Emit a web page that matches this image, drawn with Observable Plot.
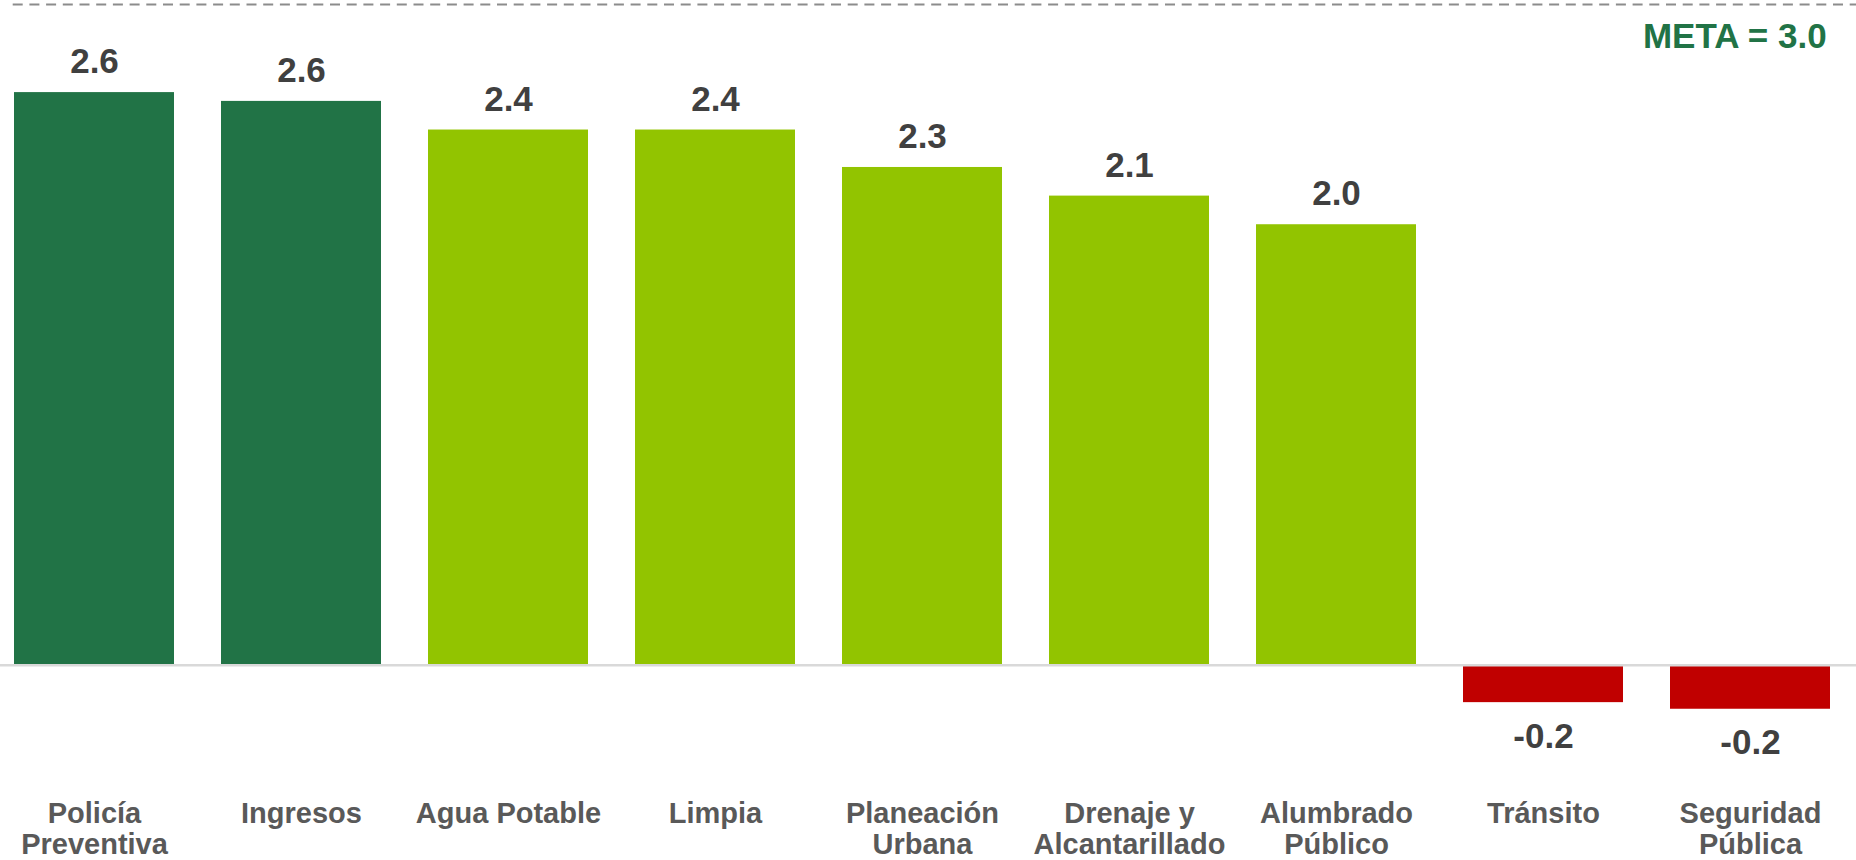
<!DOCTYPE html>
<html>
<head>
<meta charset="utf-8">
<script src="https://cdn.jsdelivr.net/npm/d3@7"></script>
<script src="https://cdn.jsdelivr.net/npm/@observablehq/plot@0.6"></script>
<style>
  html, body { margin: 0; padding: 0; background: #ffffff; }
  #chart svg { display: block; }
</style>
</head>
<body>
<div id="chart"></div>
<script>
// Categories (dependencias), in display order
const categorias = [
  "Policía Preventiva", "Ingresos", "Agua Potable", "Limpia",
  "Planeación Urbana", "Drenaje y Alcantarillado", "Alumbrado Público",
  "Tránsito", "Seguridad Pública"
];
// Tick labels (two lines where the original wraps)
const etiquetas = [
  "Policía\nPreventiva", "Ingresos", "Agua Potable", "Limpia",
  "Planeación\nUrbana", "Drenaje y\nAlcantarillado", "Alumbrado\nPúblico",
  "Tránsito", "Seguridad\nPública"
];
// Values
const valores = [2.60, 2.56, 2.43, 2.43, 2.26, 2.13, 2.00, -0.17, -0.20];
// Performance tier of each bar
const niveles = ["alto", "alto", "medio", "medio", "medio", "medio", "medio", "bajo", "bajo"];
const nivelesDominio = ["alto", "medio", "bajo"];
// Goal
const meta = 3.0;
const metaTexto = "META = 3.0";

const datos = categorias.map((c, i) => ({
  categoria: c, etiqueta: etiquetas[i], valor: valores[i], nivel: niveles[i]
}));
const fmt = v => v.toFixed(1);

const W = 1856, H = 860;
const mL = 11.7, mR = 24.3;

const chart = Plot.plot({
  width: W,
  height: H,
  marginLeft: mL,
  marginRight: mR,
  marginTop: 0,
  marginBottom: 60,
  style: { fontFamily: "'Liberation Sans', Arial, Helvetica, sans-serif", background: "#ffffff" },
  x: { domain: categorias, paddingInner: 0.229, paddingOuter: 0, axis: null },
  y: { domain: [0, 3], range: [664.7, 4], axis: null },
  color: { domain: nivelesDominio, range: ["#217346", "#92c400", "#c00000"] },
  marks: [
    Plot.barY(datos, { x: "categoria", y: "valor", fill: "nivel" }),
    Plot.ruleY([0], { stroke: "#d9d9d9", strokeWidth: 2.6, insetLeft: -mL, insetRight: -mR }),
    Plot.ruleY([meta], { stroke: "#8c8c8c", strokeWidth: 2.2, strokeDasharray: "10,6.7", insetLeft: 1, insetRight: -mR }),
    Plot.text(datos.filter(d => d.valor >= 0), {
      x: "categoria", y: "valor", text: d => fmt(d.valor),
      dy: -30.5, fontSize: 35, fontWeight: "bold", fill: "#404040"
    }),
    Plot.text(datos.filter(d => d.valor < 0), {
      x: "categoria", y: "valor", text: d => fmt(d.valor),
      dy: 34, fontSize: 35, fontWeight: "bold", fill: "#404040"
    }),
    Plot.text(datos, {
      x: "categoria", text: "etiqueta", frameAnchor: "bottom", lineAnchor: "top",
      fontSize: 29, fontWeight: "bold", fill: "#595959", lineHeight: 31 / 29
    }),
    Plot.text([metaTexto], {
      frameAnchor: "top-right", textAnchor: "end", lineAnchor: "top",
      dx: -5.5, dy: 23, fontSize: 35, fontWeight: "bold", fill: "#217346"
    })
  ]
});
document.getElementById("chart").appendChild(chart);
</script>
</body>
</html>
